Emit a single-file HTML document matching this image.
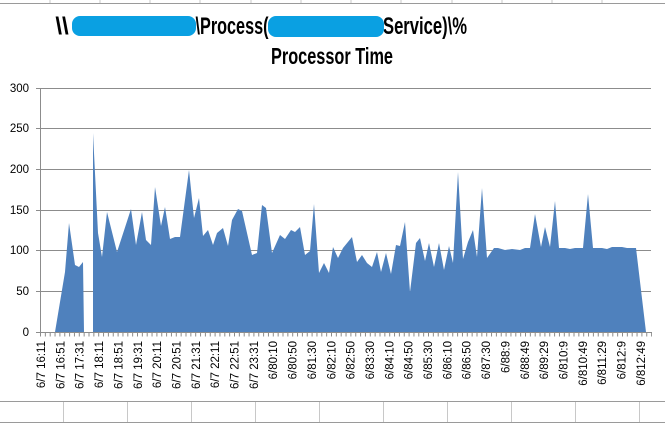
<!DOCTYPE html>
<html><head><meta charset="utf-8"><style>
body{margin:0;background:#fff;}
svg{display:block;font-family:"Liberation Sans",sans-serif;}
</style></head><body>
<svg width="665" height="424" viewBox="0 0 665 424">
<rect width="665" height="424" fill="#fff"/>
<g stroke="#c8c8c8" stroke-width="1">
<line x1="0" y1="3.5" x2="665" y2="3.5" stroke="#9a9a9a"/>
<line x1="50" y1="0" x2="50" y2="3"/><line x1="100" y1="0" x2="100" y2="3"/><line x1="150" y1="0" x2="150" y2="3"/><line x1="200" y1="0" x2="200" y2="3"/><line x1="251" y1="0" x2="251" y2="3"/><line x1="301" y1="0" x2="301" y2="3"/><line x1="351" y1="0" x2="351" y2="3"/><line x1="401" y1="0" x2="401" y2="3"/><line x1="452" y1="0" x2="452" y2="3"/><line x1="502" y1="0" x2="502" y2="3"/><line x1="552" y1="0" x2="552" y2="3"/><line x1="602" y1="0" x2="602" y2="3"/>
<line x1="0" y1="401.5" x2="665" y2="401.5" stroke="#9a9a9a"/>
<line x1="0" y1="422.5" x2="665" y2="422.5" stroke="#9a9a9a"/>
<line x1="63.5" y1="402" x2="63.5" y2="422"/><line x1="127.5" y1="402" x2="127.5" y2="422"/><line x1="191.5" y1="402" x2="191.5" y2="422"/><line x1="255.5" y1="402" x2="255.5" y2="422"/><line x1="319.5" y1="402" x2="319.5" y2="422"/><line x1="383.5" y1="402" x2="383.5" y2="422"/><line x1="447.5" y1="402" x2="447.5" y2="422"/><line x1="511.5" y1="402" x2="511.5" y2="422"/><line x1="575.5" y1="402" x2="575.5" y2="422"/><line x1="639.5" y1="402" x2="639.5" y2="422"/>
</g>
<g font-weight="bold" font-size="24" fill="#000" text-anchor="middle">
<text x="62" y="34">\\</text>
<text x="232" y="34" textLength="73" lengthAdjust="spacingAndGlyphs">\Process(</text>
<text x="425" y="34" textLength="84" lengthAdjust="spacingAndGlyphs">Service)\%</text>
<text x="332" y="64" font-size="23" textLength="122" lengthAdjust="spacingAndGlyphs">Processor Time</text>
</g>
<rect x="72" y="16" width="124" height="20" rx="8" fill="#0aa0e2"/>
<rect x="268" y="16" width="116" height="21" rx="8" fill="#0aa0e2"/>
<g stroke="#8c8c8c" stroke-width="1">
<line x1="36" y1="88.5" x2="651" y2="88.5"/>
<line x1="36" y1="128.5" x2="651" y2="128.5"/>
<line x1="36" y1="169.5" x2="651" y2="169.5"/>
<line x1="36" y1="210.5" x2="651" y2="210.5"/>
<line x1="36" y1="250.5" x2="651" y2="250.5"/>
<line x1="36" y1="291.5" x2="651" y2="291.5"/>
</g>
<g font-size="11.5" fill="#000" text-anchor="end">
<text x="29" y="92">300</text><text x="29" y="132">250</text><text x="29" y="173">200</text><text x="29" y="214">150</text><text x="29" y="254">100</text><text x="29" y="295">50</text><text x="29" y="336">0</text>
</g>
<polygon fill="#4f81bd" points="55,332 65,272 69,223 75,265 79,267 83,262 84,332"/>
<polygon fill="#4f81bd" points="93,332 93,133 98,233 102,257 107,212 117,252 131,209 136,245 142,212 146,240 151,245 155,187 161,226 165,207 170,239 175,237 180,237 189,170 194,218 199,198 203,236 208,230 213,245 217,233 223,228 228,246 232,220 238,209 242,211 252,255 257,253 262,205 266,208 272,253 280,235 285,239 291,230 295,232 300,227 305,255 310,251 314,204 319,273 324,263 329,273 333,247 338,258 343,248 352,237 357,262 362,255 367,263 372,267 377,252 381,272 386,253 391,274 396,245 400,246 405,222 410,292 416,243 420,238 425,261 429,243 434,267 439,243 444,270 449,246 453,263 458,172 463,259 468,242 473,230 477,257 482,188 487,258 494,248 498,248 505,250 512,249 520,250 525,248 530,248 535,214 541,247 545,227 550,247 555,201 559,248 565,248 570,249 575,248 583,248 588,194 593,248 602,248 607,249 612,247 622,247 627,248 636,248 646,332"/>
<line x1="40.5" y1="88" x2="40.5" y2="333" stroke="#8c8c8c"/>
<line x1="36" y1="332.5" x2="652" y2="332.5" stroke="#8c8c8c"/>
<line x1="40" y1="334.5" x2="652" y2="334.5" stroke="#8c8c8c" stroke-width="4" stroke-dasharray="1 3.85"/>
<g font-size="11.5" fill="#000" text-anchor="end">
<text transform="translate(45,341) rotate(-90)">6/7 16:11</text>
<text transform="translate(64.4,341) rotate(-90)">6/7 16:51</text>
<text transform="translate(83.7,341) rotate(-90)">6/7 17:31</text>
<text transform="translate(103,341) rotate(-90)">6/7 18:11</text>
<text transform="translate(122.4,341) rotate(-90)">6/7 18:51</text>
<text transform="translate(141.8,341) rotate(-90)">6/7 19:31</text>
<text transform="translate(161.1,341) rotate(-90)">6/7 20:11</text>
<text transform="translate(180.5,341) rotate(-90)">6/7 20:51</text>
<text transform="translate(199.8,341) rotate(-90)">6/7 21:31</text>
<text transform="translate(219.2,341) rotate(-90)">6/7 22:11</text>
<text transform="translate(238.5,341) rotate(-90)">6/7 22:51</text>
<text transform="translate(257.9,341) rotate(-90)">6/7 23:31</text>
<text transform="translate(277.2,341) rotate(-90)">6/80:10</text>
<text transform="translate(296.6,341) rotate(-90)">6/80:50</text>
<text transform="translate(315.9,341) rotate(-90)">6/81:30</text>
<text transform="translate(335.3,341) rotate(-90)">6/82:10</text>
<text transform="translate(354.6,341) rotate(-90)">6/82:50</text>
<text transform="translate(374,341) rotate(-90)">6/83:30</text>
<text transform="translate(393.3,341) rotate(-90)">6/84:10</text>
<text transform="translate(412.7,341) rotate(-90)">6/84:50</text>
<text transform="translate(432,341) rotate(-90)">6/85:30</text>
<text transform="translate(451.4,341) rotate(-90)">6/86:10</text>
<text transform="translate(470.7,341) rotate(-90)">6/86:50</text>
<text transform="translate(490.1,341) rotate(-90)">6/87:30</text>
<text transform="translate(509.4,341) rotate(-90)">6/88:9</text>
<text transform="translate(528.8,341) rotate(-90)">6/88:49</text>
<text transform="translate(548.1,341) rotate(-90)">6/89:29</text>
<text transform="translate(567.5,341) rotate(-90)">6/810:9</text>
<text transform="translate(586.8,341) rotate(-90)">6/810:49</text>
<text transform="translate(606.2,341) rotate(-90)">6/811:29</text>
<text transform="translate(625.5,341) rotate(-90)">6/812:9</text>
<text transform="translate(644.9,341) rotate(-90)">6/812:49</text>
</g>
</svg>
</body></html>
